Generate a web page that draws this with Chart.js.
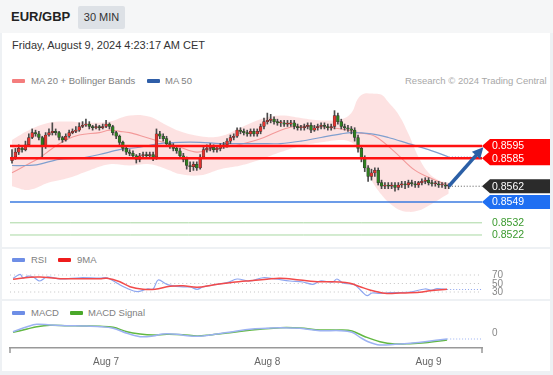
<!DOCTYPE html>
<html>
<head>
<meta charset="utf-8">
<script src="https://cdn.jsdelivr.net/npm/chart.js@4.4.1/dist/chart.umd.min.js"></script>
<style>
body { margin: 0; width: 553px; height: 375px; background: #eef1f4; font-family: "Liberation Sans", Arial, sans-serif; position: relative; overflow: hidden; }
.a { position: absolute; }
.panel { position: absolute; left: 2px; width: 548px; background: #fff; }
.sw { position: absolute; width: 13px; height: 4px; border-radius: 1px; }
.lg { position: absolute; font-size: 9.5px; color: #808080; line-height: 12px; white-space: nowrap; }
canvas { position: absolute; left: 0; }
</style>
</head>
<body>
<div class="a" style="left:0;top:0;width:553px;height:33px;background:#f5f6f7"></div>
<div class="a" style="left:11px;top:9px;font-size:13px;font-weight:bold;color:#222;line-height:16px">EUR/GBP</div>
<div class="a" style="left:78px;top:6px;width:47px;height:23px;background:#dde1e6;border-radius:2px;font-size:11px;color:#333;line-height:23px;text-align:center">30 MIN</div>

<div class="panel" style="top:33px;height:214px"></div>
<div class="panel" style="top:249px;height:50px"></div>
<div class="panel" style="top:301px;height:70px"></div>

<div class="a" style="left:12px;top:39px;font-size:11px;color:#333;line-height:13px">Friday, August 9, 2024 4:23:17 AM CET</div>

<div class="sw" style="left:12px;top:79px;background:#f47d7d"></div>
<div class="lg" style="left:31px;top:75px">MA 20 + Bollinger Bands</div>
<div class="sw" style="left:147px;top:79px;background:#2f5ea8"></div>
<div class="lg" style="left:165px;top:75px">MA 50</div>
<div class="lg" style="left:405px;top:75px;color:#a8a8a8">Research © 2024 Trading Central</div>

<div class="sw" style="left:12px;top:258px;background:#6e8ee6"></div>
<div class="lg" style="left:31px;top:254px">RSI</div>
<div class="sw" style="left:58px;top:258px;background:#ee1c1c"></div>
<div class="lg" style="left:77px;top:254px">9MA</div>

<div class="sw" style="left:12px;top:311px;background:#6e8ee6"></div>
<div class="lg" style="left:31px;top:307px">MACD</div>
<div class="sw" style="left:70px;top:311px;background:#4aa82a"></div>
<div class="lg" style="left:88px;top:307px">MACD Signal</div>

<canvas id="price" width="553" height="155" style="top:88px;width:553px;height:155px"></canvas>
<canvas id="rsi" width="553" height="32" style="top:266px;width:553px;height:32px"></canvas>
<canvas id="macd" width="553" height="56" style="top:316px;width:553px;height:56px"></canvas>

<script>
// 30 min candles, index 0 = Aug 6 10:00
var opens = [0.8583,0.8586,0.8590,0.8593,0.8592,0.8596,0.8602,0.8606,0.8605,0.8602,
  0.8595,0.8604,0.8606,0.8607,0.8606,0.8602,0.8600,0.8603,0.8606,0.8607,
  0.8608,0.8611,0.8612,0.8613,0.8611,0.8610,0.8611,0.8610,0.8611,0.8613,
  0.8611,0.8606,0.8603,0.8598,0.8593,0.8590,0.8589,0.8587,0.8584,0.8587,
  0.8588,0.8587,0.8588,0.8586,0.8605,0.8603,0.8601,0.8597,0.8595,0.8593,
  0.8591,0.8587,0.8584,0.8579,0.8578,0.8580,0.8577,0.8586,0.8592,0.8593,
  0.8594,0.8592,0.8593,0.8595,0.8596,0.8599,0.8602,0.8603,0.8608,0.8607,
  0.8606,0.8605,0.8607,0.8605,0.8607,0.8611,0.8615,0.8616,0.8617,0.8615,
  0.8614,0.8614,0.8613,0.8613,0.8614,0.8611,0.8610,0.8610,0.8611,0.8612,
  0.8608,0.8610,0.8611,0.8612,0.8611,0.8610,0.8611,0.8620,0.8615,0.8611,
  0.8610,0.8609,0.8608,0.8602,0.8593,0.8585,0.8577,0.8570,0.8573,0.8575,
  0.8565,0.8562,0.8563,0.8562,0.8563,0.8561,0.8563,0.8564,0.8563,0.8565,
  0.8564,0.8563,0.8565,0.8566,0.8567,0.8565,0.8564,0.8564,0.8563,0.8563,
  0.8562];
var highs = [0.8592,0.8593,0.8596,0.8595,0.8599,0.8605,0.8609,0.8608,0.8607,0.8603,
  0.8606,0.8609,0.8614,0.8609,0.8607,0.8603,0.8605,0.8608,0.8609,0.8611,
  0.8614,0.8615,0.8617,0.8615,0.8612,0.8613,0.8612,0.8613,0.8616,0.8614,
  0.8612,0.8607,0.8604,0.8599,0.8595,0.8592,0.8591,0.8588,0.8589,0.8590,
  0.8590,0.8590,0.8590,0.8609,0.8607,0.8605,0.8603,0.8599,0.8597,0.8595,
  0.8593,0.8589,0.8586,0.8582,0.8582,0.8582,0.8588,0.8594,0.8596,0.8597,
  0.8596,0.8595,0.8597,0.8598,0.8601,0.8604,0.8605,0.8610,0.8610,0.8609,
  0.8608,0.8609,0.8609,0.8609,0.8613,0.8618,0.8622,0.8621,0.8619,0.8617,
  0.8616,0.8616,0.8616,0.8616,0.8616,0.8613,0.8612,0.8613,0.8614,0.8614,
  0.8612,0.8613,0.8614,0.8614,0.8613,0.8613,0.8624,0.8622,0.8617,0.8613,
  0.8612,0.8611,0.8610,0.8604,0.8595,0.8587,0.8579,0.8576,0.8577,0.8577,
  0.8567,0.8565,0.8565,0.8565,0.8565,0.8565,0.8566,0.8566,0.8567,0.8567,
  0.8566,0.8566,0.8568,0.8569,0.8569,0.8567,0.8566,0.8566,0.8565,0.8565,
  0.8564];
var lows = [0.8581,0.8584,0.8588,0.8590,0.8591,0.8595,0.8601,0.8603,0.8600,0.8586,
  0.8593,0.8603,0.8604,0.8604,0.8600,0.8598,0.8599,0.8602,0.8605,0.8606,
  0.8607,0.8610,0.8611,0.8609,0.8608,0.8609,0.8608,0.8609,0.8610,0.8609,
  0.8604,0.8601,0.8596,0.8591,0.8588,0.8587,0.8585,0.8581,0.8582,0.8585,
  0.8585,0.8585,0.8583,0.8584,0.8601,0.8599,0.8595,0.8593,0.8591,0.8589,
  0.8585,0.8582,0.8576,0.8574,0.8575,0.8575,0.8576,0.8585,0.8590,0.8591,
  0.8590,0.8590,0.8591,0.8593,0.8594,0.8597,0.8600,0.8602,0.8605,0.8604,
  0.8603,0.8603,0.8603,0.8603,0.8605,0.8609,0.8613,0.8614,0.8613,0.8612,
  0.8611,0.8611,0.8611,0.8611,0.8609,0.8608,0.8608,0.8608,0.8609,0.8606,
  0.8607,0.8608,0.8609,0.8609,0.8608,0.8608,0.8609,0.8613,0.8609,0.8608,
  0.8607,0.8605,0.8599,0.8590,0.8582,0.8574,0.8566,0.8567,0.8570,0.8563,
  0.8560,0.8560,0.8560,0.8560,0.8558,0.8559,0.8561,0.8560,0.8561,0.8562,
  0.8561,0.8561,0.8563,0.8564,0.8563,0.8562,0.8562,0.8561,0.8561,0.8560,
  0.8560];
var closes = [0.8586,0.8590,0.8593,0.8592,0.8596,0.8602,0.8606,0.8605,0.8602,0.8595,
  0.8604,0.8606,0.8607,0.8606,0.8602,0.8600,0.8603,0.8606,0.8607,0.8608,
  0.8611,0.8612,0.8613,0.8611,0.8610,0.8611,0.8610,0.8611,0.8613,0.8611,
  0.8606,0.8603,0.8598,0.8593,0.8590,0.8589,0.8587,0.8584,0.8587,0.8588,
  0.8587,0.8588,0.8586,0.8605,0.8603,0.8601,0.8597,0.8595,0.8593,0.8591,
  0.8587,0.8584,0.8579,0.8578,0.8580,0.8577,0.8586,0.8592,0.8593,0.8594,
  0.8592,0.8593,0.8595,0.8596,0.8599,0.8602,0.8603,0.8608,0.8607,0.8606,
  0.8605,0.8607,0.8605,0.8607,0.8611,0.8615,0.8616,0.8617,0.8615,0.8614,
  0.8614,0.8613,0.8613,0.8614,0.8611,0.8610,0.8610,0.8611,0.8612,0.8608,
  0.8610,0.8611,0.8612,0.8611,0.8610,0.8611,0.8620,0.8615,0.8611,0.8610,
  0.8609,0.8608,0.8602,0.8593,0.8585,0.8577,0.8570,0.8573,0.8575,0.8565,
  0.8562,0.8563,0.8562,0.8563,0.8561,0.8563,0.8564,0.8563,0.8565,0.8564,
  0.8563,0.8565,0.8566,0.8567,0.8565,0.8564,0.8564,0.8563,0.8563,0.8562,
  0.8562];

// indicators, read at candle positions
var ma20Idx = [0, 4, 8, 12, 16, 20, 26, 29, 32, 35, 40, 45, 50, 55, 59, 64, 69, 75, 80, 84, 90, 95, 100, 103, 108, 114, 120, 126, 130];
var ma20Val = [0.8573, 0.8579, 0.8585, 0.8593, 0.8600, 0.8604, 0.8606, 0.8608, 0.8607, 0.8606, 0.8602, 0.8598, 0.8594, 0.8590, 0.8592, 0.8594, 0.8597, 0.8602, 0.8608, 0.8611, 0.8611, 0.8610, 0.8608, 0.8606, 0.8603, 0.8590, 0.8575, 0.8567, 0.8563];
var ma50Idx = [0, 4, 8, 14, 20, 26, 32, 38, 44, 50, 56, 62, 68, 74, 80, 86, 92, 98, 101, 107, 112, 118, 124, 130];
var ma50Val = [0.8579, 0.8579, 0.8580, 0.8584, 0.8585, 0.8588, 0.8592, 0.8594, 0.8597, 0.8598, 0.8598, 0.8597, 0.8597, 0.8597, 0.8597, 0.8599, 0.8602, 0.8605, 0.8606, 0.8605, 0.8602, 0.8597, 0.8592, 0.8586];
var bbIdx = [0, 5, 11, 17, 23, 29, 35, 41, 46, 50, 56, 62, 68, 74, 80, 86, 92, 98, 101, 103, 105, 107, 110, 112, 115, 118, 121, 124, 127, 130];
var bbUpper = [0.8600, 0.8608, 0.8614, 0.8615, 0.8614, 0.8615, 0.8620, 0.8619, 0.8612, 0.8607, 0.8603, 0.8603, 0.8610, 0.8617, 0.8620, 0.8618, 0.8616, 0.8617, 0.8622, 0.8634, 0.8638, 0.8638, 0.8637, 0.8631, 0.8621, 0.8605, 0.8586, 0.8573, 0.8567, 0.8565];
var bbLower = [0.8562, 0.8559, 0.8565, 0.8569, 0.8575, 0.8580, 0.8579, 0.8580, 0.8576, 0.8572, 0.8571, 0.8576, 0.8579, 0.8584, 0.8590, 0.8595, 0.8598, 0.8600, 0.8598, 0.8592, 0.8580, 0.8567, 0.8555, 0.8549, 0.8543, 0.8541, 0.8542, 0.8546, 0.8551, 0.8556];

var rsiIdx = [0.3, 2.4, 3.3, 4.8, 6.3, 8.3, 10.4, 14.3, 20.2, 26.2, 28.3, 31.3, 34.2, 37.2, 40.2, 42, 43.5, 46.1, 50, 53, 55.1, 56.8, 59.8, 64, 67, 70.8, 74.7, 78.3, 82.7, 86.6, 89.6, 91.7, 95.5, 96.7, 98.5, 100.6, 102.1, 104.2, 105.7, 107.1, 109.5, 112.5, 118.5, 122.9, 125, 126.5, 129.5];
var rsiVal = [62.2, 71.6, 62.9, 67.6, 65.3, 55.9, 65.3, 60.6, 63.6, 62.9, 63.6, 50.5, 38.7, 30.7, 37.1, 37.1, 58.2, 48.1, 42.5, 41.8, 36.4, 41.8, 46.5, 51.9, 60.6, 55.9, 63.6, 60.6, 55.9, 53.5, 48.1, 55.9, 53.5, 60.6, 51.2, 48.8, 46.5, 30.7, 21.3, 27.6, 26.9, 28.4, 30, 37.1, 34.7, 37.8, 35.9];
var rsiMaIdx = [0.3, 5.4, 8.3, 14.3, 20.2, 26.2, 28.3, 32.1, 35.1, 39, 42.6, 47, 50.9, 55.1, 59.8, 65.8, 70.8, 75.9, 79.8, 85.7, 91.7, 97.6, 100.6, 103.6, 106.5, 111, 115.5, 121.4, 124.4, 129.5];
var rsiMaVal = [60, 64.6, 65.3, 61.3, 61.3, 61.3, 62.2, 54, 42.5, 36.4, 36.4, 43.4, 44.8, 41, 46.5, 52.8, 56.6, 60, 62.2, 58.2, 54.2, 53.5, 50.5, 42.5, 34.7, 27, 27.6, 29.3, 33.1, 36.4];
var rsiLevels = [70, 50, 30];

var macdIdx = [0.3, 4.5, 7.4, 11.3, 16.4, 21.1, 26.2, 30.1, 34.2, 38.1, 42, 44.9, 49.1, 53, 56.8, 61, 65.8, 70.8, 75.9, 79.8, 85.7, 91.7, 97.6, 101.2, 103.6, 106, 109.5, 114, 118.5, 122.9, 129.5];
var macdVal = [0.00013, 0.00063, 0.00087, 0.00080, 0.00073, 0.00070, 0.00063, 0.00047, -0.00003, -0.00037, -0.00030, -0.00010, -0.00013, -0.00030, -0.00030, -0.00010, 0.00013, 0.00037, 0.00047, 0.00053, 0.00047, 0.00023, 0.00023, 0.00007, -0.00043, -0.00087, -0.00120, -0.00113, -0.00103, -0.00087, -0.00060];
var signalIdx = [0.3, 4.5, 7.4, 11.3, 16.4, 21.1, 26.2, 30.1, 34.2, 38.1, 42, 46.1, 50.9, 55.1, 58.9, 64, 68.8, 73.8, 79.8, 85.7, 91.7, 97.6, 101.2, 105.1, 109.5, 114, 118.5, 122.9, 129.5];
var signalVal = [0.00007, 0.00040, 0.00063, 0.00077, 0.00073, 0.00070, 0.00067, 0.00057, 0.00013, -0.00010, -0.00020, -0.00013, -0.00017, -0.00030, -0.00020, 0.00000, 0.00020, 0.00037, 0.00053, 0.00050, 0.00030, 0.00030, 0.00020, -0.00037, -0.00087, -0.00110, -0.00107, -0.00097, -0.00070];
var macdLevels = [0];

// levels and labels
var resistance = [0.8595, 0.8585];
var lastPrice = 0.8562;
var pivot = 0.8549;
var supports = [0.8532, 0.8522];
var tickIdx = [28, 76, 124];
var tickLabels = ['Aug 7', 'Aug 8', 'Aug 9'];
var arrowFrom = [130, 0.8562];
var arrowTo = [140.3, 0.8594];

var xMin = -0.6, xMax = 139.9;
var upColor = '#e3342f', downColor = '#2e7d1f';
Chart.defaults.font.family = '"Liberation Sans", Arial, sans-serif';

function pts(xs, ys) {
  return xs.map(function (x, i) { return {x: x, y: ys[i]}; });
}
function hline(v, from) {
  return [{x: from === undefined ? xMin : from, y: v}, {x: xMax, y: v}];
}
function lineSet(data, color, width, order, dash) {
  return {
    type: 'line', data: data, borderColor: color, borderWidth: width, pointRadius: 0,
    fill: false, tension: 0.35, order: order, borderDash: dash || []
  };
}
// right-hand level labels, placed with the chart's own y scale
function levelLabels(values) {
  return {
    id: 'levels',
    afterDraw: function (chart) {
      var ctx = chart.ctx, ys = chart.scales.y;
      ctx.save();
      ctx.font = '10px "Liberation Sans", Arial, sans-serif';
      ctx.fillStyle = '#888';
      ctx.textBaseline = 'middle';
      values.forEach(function (v) {
        ctx.fillText(String(v), chart.chartArea.right + 10, ys.getPixelForValue(v) + 0.5);
      });
      ctx.restore();
    }
  };
}

var candleColor = function (c) {
  var i = c.dataIndex;
  return closes[i] >= opens[i] ? upColor : downColor;
};

var tagPlugin = {
  id: 'tags',
  afterDatasetsDraw: function (chart) {
    var ctx = chart.ctx, xs = chart.scales.x, ys = chart.scales.y;
    var left = chart.chartArea.right;

    // arrow
    var x1 = xs.getPixelForValue(arrowFrom[0]), y1 = ys.getPixelForValue(arrowFrom[1]);
    var x2 = xs.getPixelForValue(arrowTo[0]), y2 = ys.getPixelForValue(arrowTo[1]);
    var ang = Math.atan2(y2 - y1, x2 - x1);
    ctx.save();
    ctx.strokeStyle = '#2b5fa6';
    ctx.fillStyle = '#2b5fa6';
    ctx.lineWidth = 3.5;
    ctx.beginPath();
    ctx.moveTo(x1, y1);
    ctx.lineTo(x2 - 8 * Math.cos(ang), y2 - 8 * Math.sin(ang));
    ctx.stroke();
    ctx.beginPath();
    ctx.moveTo(x2, y2);
    ctx.lineTo(x2 - 11 * Math.cos(ang) + 5.5 * Math.sin(ang), y2 - 11 * Math.sin(ang) - 5.5 * Math.cos(ang));
    ctx.lineTo(x2 - 11 * Math.cos(ang) - 5.5 * Math.sin(ang), y2 - 11 * Math.sin(ang) + 5.5 * Math.cos(ang));
    ctx.closePath();
    ctx.fill();

    // price tags
    var tags = [[resistance[0], '#ff0000'], [resistance[1], '#ff0000'], [lastPrice, '#2b2b2b'], [pivot, '#1f6ff2']];
    tags.forEach(function (t) {
      var yc = ys.getPixelForValue(t[0]);
      ctx.fillStyle = t[1];
      ctx.beginPath();
      ctx.moveTo(left, yc);
      ctx.lineTo(left + 8, yc - 7);
      ctx.lineTo(left + 68, yc - 7);
      ctx.lineTo(left + 68, yc + 7);
      ctx.lineTo(left + 8, yc + 7);
      ctx.closePath();
      ctx.fill();
    });
    ctx.font = '10.5px "Liberation Sans", Arial, sans-serif';
    ctx.textBaseline = 'middle';
    ctx.fillStyle = '#fff';
    tags.forEach(function (t) {
      ctx.fillText(t[0].toFixed(4), left + 10, ys.getPixelForValue(t[0]) + 0.5);
    });
    ctx.fillStyle = '#3a9a2e';
    supports.forEach(function (v) {
      ctx.fillText(v.toFixed(4), left + 10, ys.getPixelForValue(v) + 0.5);
    });
    ctx.restore();
  }
};

var priceChart = new Chart(document.getElementById('price'), {
  type: 'bar',
  data: {
    datasets: [
      {
        type: 'line', data: pts(bbIdx, bbUpper), borderWidth: 0, pointRadius: 0,
        fill: false, tension: 0.4, order: 7
      },
      {
        type: 'line', data: pts(bbIdx, bbLower), borderWidth: 0, pointRadius: 0,
        fill: '-1', backgroundColor: 'rgba(250, 185, 185, 0.42)', tension: 0.4, order: 7
      },
      lineSet(pts(ma50Idx, ma50Val), '#7f9fcf', 1.2, 5),
      lineSet(hline(ma50Val[ma50Val.length - 1], ma50Idx[ma50Idx.length - 1]), '#9fb3d6', 1.2, 5, [1, 2]),
      lineSet(pts(ma20Idx, ma20Val), '#f39a9a', 1.1, 5),
      {
        data: closes.map(function (c, i) { return {x: i, y: [lows[i], highs[i]]}; }),
        backgroundColor: '#4a4a4a', barThickness: 1, grouped: false, order: 3
      },
      {
        data: closes.map(function (c, i) { return {x: i, y: [opens[i], c]}; }),
        backgroundColor: candleColor, borderColor: '#333', borderWidth: 0.5,
        borderSkipped: false, barThickness: 2.8, minBarLength: 1, grouped: false, order: 2
      },
      lineSet(hline(resistance[0]), '#ff1111', 2.5, 1),
      lineSet(hline(resistance[1]), '#ff1111', 2.5, 1),
      lineSet(hline(pivot), '#3b7be0', 1.5, 1),
      lineSet(hline(supports[0]), '#a8d8a2', 1, 1),
      lineSet(hline(supports[1]), '#a8d8a2', 1, 1),
      lineSet(hline(lastPrice, closes.length - 1), '#555', 1, 1, [1, 2])
    ]
  },
  options: {
    responsive: false,
    animation: false,
    devicePixelRatio: 1,
    events: [],
    layout: { padding: { left: 10, right: 71, top: 0, bottom: 0 } },
    plugins: { legend: { display: false }, tooltip: { enabled: false } },
    scales: {
      x: { type: 'linear', min: xMin, max: xMax, offset: false, display: false },
      y: { min: 0.851543, max: 0.864258, display: false }
    }
  },
  plugins: [tagPlugin]
});

var rsiChart = new Chart(document.getElementById('rsi'), {
  type: 'line',
  data: {
    datasets: [
      lineSet(hline(rsiLevels[0]), '#c4c4c4', 1, 3, [1, 3]),
      lineSet(hline(rsiLevels[1]), '#c4c4c4', 1, 3, [1, 3]),
      lineSet(hline(rsiLevels[2]), '#c4c4c4', 1, 3, [1, 3]),
      lineSet(pts(rsiMaIdx, rsiMaVal), '#f24a4a', 1.5, 1),
      lineSet(pts(rsiIdx, rsiVal), '#8ea6f0', 1.2, 2),
      lineSet(hline(rsiVal[rsiVal.length - 1], rsiIdx[rsiIdx.length - 1]), '#8ea6f0', 1.2, 2, [1, 2])
    ]
  },
  options: {
    responsive: false,
    animation: false,
    devicePixelRatio: 1,
    events: [],
    layout: { padding: { left: 10, right: 71, top: 0, bottom: 0 } },
    plugins: { legend: { display: false }, tooltip: { enabled: false } },
    scales: {
      x: { type: 'linear', min: xMin, max: xMax, display: false },
      y: { min: 15.9, max: 91.2, display: false }
    }
  },
  plugins: [levelLabels(rsiLevels)]
});

var edgeTicks = {
  id: 'edgeTicks',
  afterDraw: function (chart) {
    var ctx = chart.ctx, a = chart.chartArea;
    ctx.save();
    ctx.strokeStyle = '#999';
    ctx.lineWidth = 1.5;
    ctx.beginPath();
    ctx.moveTo(a.left, a.bottom);
    ctx.lineTo(a.left, a.bottom + 5);
    ctx.moveTo(a.right, a.bottom);
    ctx.lineTo(a.right, a.bottom + 5);
    ctx.stroke();
    ctx.restore();
  }
};

var macdChart = new Chart(document.getElementById('macd'), {
  type: 'line',
  data: {
    datasets: [
      lineSet(pts(signalIdx, signalVal), '#62b842', 1.5, 2),
      lineSet(pts(macdIdx, macdVal), '#9cb2f2', 1.5, 1),
      lineSet(hline(macdVal[macdVal.length - 1], macdIdx[macdIdx.length - 1]), '#9cb2f2', 1.2, 1, [1, 2])
    ]
  },
  options: {
    responsive: false,
    animation: false,
    devicePixelRatio: 1,
    events: [],
    layout: { padding: { left: 10, right: 71, top: 0, bottom: 0 } },
    plugins: { legend: { display: false }, tooltip: { enabled: false } },
    scales: {
      x: {
        type: 'linear', min: xMin, max: xMax,
        afterFit: function (s) { s.height = 24; },
        afterBuildTicks: function (s) { s.ticks = tickIdx.map(function (v) { return {value: v}; }); },
        grid: { display: false, drawTicks: false },
        border: { display: true, color: '#999', width: 1.5 },
        ticks: {
          autoSkip: false, maxRotation: 0, padding: 8, color: '#666', font: { size: 10 },
          callback: function (v) { return tickLabels[tickIdx.indexOf(v)]; }
        }
      },
      y: { min: -0.0015, max: 0.0017, display: false }
    }
  },
  plugins: [edgeTicks, levelLabels(macdLevels)]
});
</script>
</body>
</html>
